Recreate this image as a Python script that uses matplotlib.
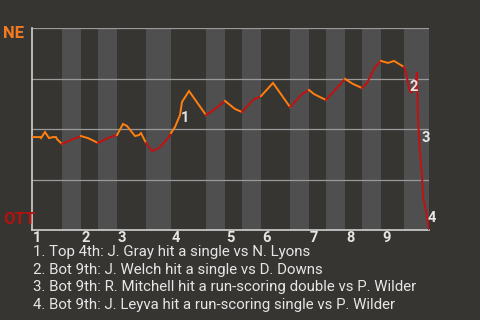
import matplotlib
matplotlib.use("Agg")
import matplotlib.pyplot as plt
from matplotlib.transforms import blended_transform_factory

plt.rcParams["font.family"] = ["Roboto", "DejaVu Sans"]

# game progress (x) and NE win probability in % (y)
progress = [0, 8, 9, 13, 17, 21, 24, 25, 30,
            39, 49,
            56, 66,
            78, 85,
            91, 95, 103, 107, 109, 114,
            120, 123, 128, 136, 139,
            143, 148, 150, 157, 174,
            183, 193,
            203, 210,
            221, 229,
            241, 258,
            263, 270, 277,
            282, 288, 294,
            303, 313,
            321, 330,
            335, 343, 349,
            356, 362, 372,
            374, 377, 379, 383, 385, 386, 388, 390, 391, 394, 397]
ne_prob = [46.0, 46.0, 45.5, 48.5, 45.5, 46.0, 46.0, 45.0, 42.6,
           44.6, 46.5,
           45.5, 43.1,
           46.0, 47.0,
           52.5, 51.5, 46.5, 47.0, 48.0, 43.1,
           39.1, 39.6, 41.1, 45.5, 48.0,
           51.0, 56.9, 63.4, 68.8, 56.9,
           59.9, 63.9,
           59.9, 58.4,
           64.4, 66.3,
           72.8, 60.9,
           63.4, 67.3, 69.3,
           67.3, 65.8, 64.4,
           69.3, 74.8,
           72.3, 70.3,
           72.8, 80.7, 83.7,
           82.7, 83.7, 80.7,
           77.7, 70.3, 67.8, 70.8, 78.2, 54.5, 38.1, 27.2, 16.3, 9.9, 0.0]

# start of each half inning (top, bottom, top, ...) and end of game
half_starts = [0, 30, 49, 66, 85, 114, 139, 174, 193, 210,
               229, 258, 277, 294, 313, 330, 349, 372, 397]
innings = ["1", "2", "3", "4", "5", "6", "7", "8", "9"]

event_x = [153, 382, 394, 400]
event_y = [55.4, 70.8, 45.3, 5.9]
event_text = [
    "1. Top 4th: J. Gray hit a single vs N. Lyons",
    "2. Bot 9th: J. Welch hit a single vs D. Downs",
    "3. Bot 9th: R. Mitchell hit a run-scoring double vs P. Wilder",
    "4. Bot 9th: J. Leyva hit a run-scoring single vs P. Wilder",
]

bg = "#373532"
band = "#4f4f4f"
orange = "#ff8010"
red = "#c41010"
txt = "#e6e6e6"

fig = plt.figure(figsize=(4.8, 3.2), dpi=100, facecolor=bg)
ax = fig.add_axes([32 / 480, 1 - 230 / 320, 397 / 480, 202 / 320])
ax.set_facecolor(bg)
ax.set_xlim(0, 397)
ax.set_ylim(0, 100)

# light bands for bottom halves
for i in range(1, len(half_starts) - 1, 2):
    ax.axvspan(half_starts[i], half_starts[i + 1], color=band, lw=0, zorder=0)

for yv in [25, 50, 75, 100]:
    ax.axhline(yv, color="#9a9a9a", lw=0.9, zorder=1)

# line coloured by which team is batting
for i in range(len(half_starts) - 1):
    lo, hi = half_starts[i], half_starts[i + 1]
    xs = [x for x in progress if lo <= x <= hi]
    ys = [y for x, y in zip(progress, ne_prob) if lo <= x <= hi]
    ax.plot(xs, ys, color=orange if i % 2 == 0 else red, lw=1.4,
            solid_joinstyle="miter", zorder=3)

for s in ["top", "right"]:
    ax.spines[s].set_visible(False)
for s in ["left", "bottom"]:
    ax.spines[s].set_color("#d0d0d0")
    ax.spines[s].set_linewidth(1.2)
ax.set_xticks([])
ax.set_yticks([])

# inning numbers under the axis
trans = blended_transform_factory(ax.transData, ax.transAxes)
for lab, x in zip(innings, half_starts[0::2]):
    ax.text(x + 1, -0.04, lab, transform=trans, ha="left", va="center",
            color=txt, fontsize=10.5, fontweight="bold")

for i, (x, y) in enumerate(zip(event_x, event_y)):
    ax.text(x, y, str(i + 1), ha="center", va="center", color=txt,
            fontsize=10.5, fontweight="bold", zorder=5, clip_on=False)

fig.text(3 / 480, 1 - 33 / 320, "NE", color="#f47a1f", fontsize=12,
         fontweight="bold", ha="left", va="center")
fig.text(3 / 480, 1 - 220 / 320, "OTT", color="#b3120e", fontsize=12,
         fontweight="bold", ha="left", va="center")

for k, line in enumerate(event_text):
    fig.text(33 / 480, 1 - (252 + k * 17.7) / 320, line, color=txt,
             fontsize=10.8, ha="left", va="center")

fig.savefig("out.png", dpi=100, facecolor=bg)
